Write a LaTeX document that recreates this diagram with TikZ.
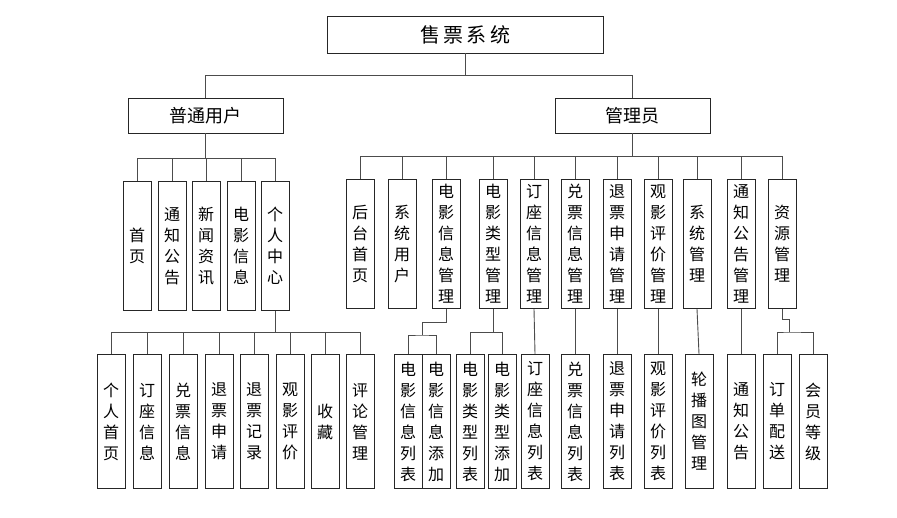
\documentclass[tikz,border=0pt]{standalone}
\usepackage{fontspec}
\newfontfamily\cjk{Noto Sans CJK SC}

\begin{document}
\begin{tikzpicture}[x=1pt,y=-1pt,
  box/.style={draw=black!85, line width=0.9pt, inner sep=0pt},
  headbox/.style={box, minimum width=155pt, minimum height=35pt, font=\cjk\fontsize{18}{20}\selectfont},
  colbox/.style={box, minimum width=28pt, anchor=north, align=center, font=\cjk\fontsize{16}{21}\selectfont},
  midbox/.style={colbox, minimum height=129pt},
  lowbox/.style={colbox, minimum height=134pt},
  link/.style={draw=black!70, line width=0.9pt}]
\useasboundingbox (0,0) rectangle (897,517);
% top levels
\node[box, minimum width=276pt, minimum height=37pt, font=\cjk\fontsize{20}{22}\selectfont] (root) at (465,34.5) {售\,票\,系\,统};
\node[headbox] (user) at (205.5,115.5) {普通用户};
\node[headbox] (admin) at (632.5,115.5) {管理员};
\draw[link] (root.south) -- ++(0,22) coordinate (j0);
\draw[link] (user.north) |- (j0) -| (admin.north);
% user functions
\node[midbox] (u1) at (137,181) {首\\页};
\node[midbox] (u2) at (172,181) {通\\知\\公\\告};
\node[midbox] (u3) at (206,181) {新\\闻\\资\\讯};
\node[midbox] (u4) at (241,181) {电\\影\\信\\息};
\node[midbox] (u5) at (275,181) {个\\人\\中\\心};
\draw[link] (user.south) -- ++(0,25) coordinate (ub);
\draw[link] (u1.north) |- (ub) -| (u5.north);
\draw[link] (u2.north) -- (u2.north |- ub);
\draw[link] (u3.north) -- (u3.north |- ub);
\draw[link] (u4.north) -- (u4.north |- ub);
% personal center
\node[lowbox] (p1) at (111,354) {个\\人\\首\\页};
\node[lowbox] (p2) at (147,354) {订\\座\\信\\息};
\node[lowbox] (p3) at (183,354) {兑\\票\\信\\息};
\node[lowbox] (p4) at (219,354) {退\\票\\申\\请};
\node[lowbox] (p5) at (254,354) {退\\票\\记\\录};
\node[lowbox] (p6) at (290,354) {观\\影\\评\\价};
\node[lowbox] (p7) at (325,354) {收\\藏};
\node[lowbox] (p8) at (360,354) {评\\论\\管\\理};
\draw[link] (u5.south) -- ++(0,22) coordinate (pb);
\draw[link] (p1.north) |- (pb) -| (p8.north);
\draw[link] (p2.north) -- (p2.north |- pb);
\draw[link] (p3.north) -- (p3.north |- pb);
\draw[link] (p4.north) -- (p4.north |- pb);
\draw[link] (p5.north) -- (p5.north |- pb);
\draw[link] (p6.north) -- (p6.north |- pb);
\draw[link] (p7.north) -- (p7.north |- pb);
% admin functions
\node[midbox] (a1) at (360,179) {后\\台\\首\\页};
\node[midbox] (a2) at (402,179) {系\\统\\用\\户};
\node[midbox] (a3) at (446,179) {电\\影\\信\\息\\管\\理};
\node[midbox] (a4) at (493,179) {电\\影\\类\\型\\管\\理};
\node[midbox] (a5) at (534,179) {订\\座\\信\\息\\管\\理};
\node[midbox] (a6) at (575,179) {兑\\票\\信\\息\\管\\理};
\node[midbox] (a7) at (617,179) {退\\票\\申\\请\\管\\理};
\node[midbox] (a8) at (658,179) {观\\影\\评\\价\\管\\理};
\node[midbox] (a9) at (697,179) {系\\统\\管\\理};
\node[midbox] (a10) at (741,179) {通\\知\\公\\告\\管\\理};
\node[midbox] (a11) at (782,179) {资\\源\\管\\理};
\draw[link] (admin.south) -- ++(0,23) coordinate (ab);
\draw[link] (a1.north) |- (ab) -| (a11.north);
\draw[link] (a2.north) -- (a2.north |- ab);
\draw[link] (a3.north) -- (a3.north |- ab);
\draw[link] (a4.north) -- (a4.north |- ab);
\draw[link] (a5.north) -- (a5.north |- ab);
\draw[link] (a6.north) -- (a6.north |- ab);
\draw[link] (a7.north) -- (a7.north |- ab);
\draw[link] (a8.north) -- (a8.north |- ab);
\draw[link] (a9.north) -- (a9.north |- ab);
\draw[link] (a10.north) -- (a10.north |- ab);
% admin sub pages
\node[lowbox] (m1) at (408,354) {电\\影\\信\\息\\列\\表};
\node[lowbox] (m2) at (436,354) {电\\影\\信\\息\\添\\加};
\node[lowbox] (m3) at (470,354) {电\\影\\类\\型\\列\\表};
\node[lowbox] (m4) at (502,354) {电\\影\\类\\型\\添\\加};
\node[lowbox] (m5) at (535,354) {订\\座\\信\\息\\列\\表};
\node[lowbox] (m6) at (575,354) {兑\\票\\信\\息\\列\\表};
\node[lowbox] (m7) at (617,354) {退\\票\\申\\请\\列\\表};
\node[lowbox] (m8) at (658,354) {观\\影\\评\\价\\列\\表};
\node[lowbox] (m9) at (699,354) {轮\\播\\图\\管\\理};
\node[lowbox] (m10) at (741,354) {通\\知\\公\\告};
\node[lowbox] (m11) at (777,354) {订\\单\\配\\送};
\node[lowbox] (m12) at (813,354) {会\\员\\等\\级};
\draw[link] (a3.south) -- ++(0,14) -| (422,335) coordinate (b3);
\draw[link] (m1.north) |- (b3) -| (m2.north);
\draw[link] (a4.south) -- ++(0,24) coordinate (b4);
\draw[link] (m3.north) |- (b4) -| (m4.north);
\draw[link] (a5.south) -- (m5.north);
\draw[link] (a6.south) -- (m6.north);
\draw[link] (a7.south) -- (m7.north);
\draw[link] (a8.south) -- (m8.north);
\draw[link] (a9.south) -- (m9.north);
\draw[link] (a10.south) -- (m10.north);
\draw[link] (a11.south) -- ++(0,11) -| (789,332) coordinate (b11);
\draw[link] (m11.north) |- (b11) -| (m12.north);
\end{tikzpicture}
\end{document}
